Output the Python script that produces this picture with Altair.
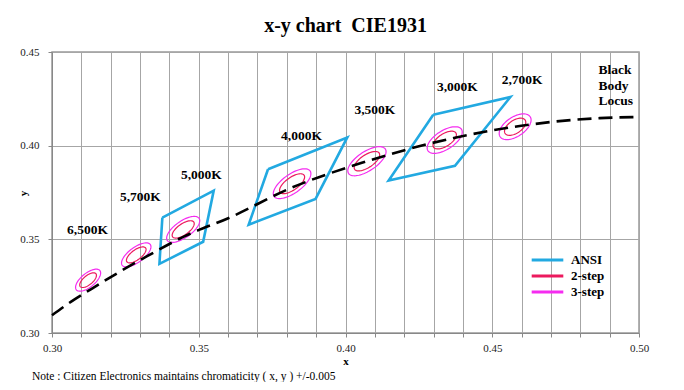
import altair as alt
import numpy as np
import pandas as pd

# ---- data ----
cct_labels = ["6,500K", "5,700K", "5,000K", "4,000K", "3,500K", "3,000K", "2,700K"]
center_x = [0.3123, 0.3287, 0.3447, 0.3818, 0.4073, 0.4338, 0.4578]
center_y = [0.3282, 0.3417, 0.3553, 0.3797, 0.3917, 0.4030, 0.4101]
# 1-step MacAdam ellipse semi-axes and rotation (degrees)
ellipse_a = [0.00223, 0.00250, 0.00274, 0.00313, 0.00309, 0.00278, 0.00258]
ellipse_b = [0.00095, 0.00105, 0.00118, 0.00134, 0.00138, 0.00136, 0.00137]
ellipse_theta = [58.23, 55.00, 53.72, 54.00, 52.58, 53.13, 57.17]
ellipse_steps = {"2-step": 2, "3-step": 3}

# ANSI quadrangles
ansi_cct = ["5,000K", "4,000K", "3,000K"]
ansi_x = [[0.3376, 0.3551, 0.3515, 0.3366],
          [0.3736, 0.4006, 0.3898, 0.3670],
          [0.4299, 0.4562, 0.4373, 0.4147]]
ansi_y = [[0.3616, 0.3760, 0.3487, 0.3369],
          [0.3874, 0.4044, 0.3716, 0.3578],
          [0.4165, 0.4260, 0.3893, 0.3814]]

# Black body locus
locus_x = [0.3000, 0.3064, 0.3135, 0.3221, 0.3324, 0.3451, 0.3611, 0.3805,
           0.4053, 0.4369, 0.4599, 0.4770, 0.4866, 0.5000]
locus_y = [0.3095, 0.3166, 0.3236, 0.3318, 0.3410, 0.3516, 0.3620, 0.3768,
           0.3907, 0.4041, 0.4106, 0.4137, 0.4147, 0.4153]

# Annotation labels
label_text = ["6,500K", "5,700K", "5,000K", "4,000K", "3,500K", "3,000K", "2,700K"]
label_x = [0.3121, 0.3301, 0.3509, 0.3850, 0.4100, 0.4381, 0.4602]
label_y = [0.3548, 0.3724, 0.3845, 0.4049, 0.4188, 0.4311, 0.4352]
bb_text = ["Black", "Body", "Locus"]
bb_x = [0.4862, 0.4862, 0.4862]
bb_y = [0.4402, 0.4318, 0.4240]

series_names = ["ANSI", "2-step", "3-step"]
series_colors = ["#22A9E1", "#EC1A5E", "#F52CF0"]

x_ticks = [round(0.30 + 0.01 * i, 2) for i in range(21)]
y_ticks = [0.30, 0.35, 0.40, 0.45]

# ---- build tables ----
rows = []
for name, xs, ys in zip(ansi_cct, ansi_x, ansi_y):
    pts = list(zip(xs, ys)) + [(xs[0], ys[0])]
    for i, (px, py) in enumerate(pts):
        rows.append({"id": "ANSI " + name, "series": "ANSI", "x": px, "y": py, "o": i})
quad_df = pd.DataFrame(rows)

rows = []
t = np.linspace(0, 2 * np.pi, 73)
for lab, cx, cy, a, b, th in zip(cct_labels, center_x, center_y, ellipse_a, ellipse_b, ellipse_theta):
    r = np.radians(th)
    for sname, k in ellipse_steps.items():
        ex = cx + k * a * np.cos(t) * np.cos(r) - k * b * np.sin(t) * np.sin(r)
        ey = cy + k * a * np.cos(t) * np.sin(r) + k * b * np.sin(t) * np.cos(r)
        for i, (px, py) in enumerate(zip(ex, ey)):
            rows.append({"id": sname + " " + lab, "series": sname, "x": px, "y": py, "o": i})
ell_df = pd.DataFrame(rows)

locus_df = pd.DataFrame({"x": locus_x, "y": locus_y, "o": range(len(locus_x))})
label_df = pd.DataFrame({"text": label_text, "x": label_x, "y": label_y})
bb_df = pd.DataFrame({"text": bb_text, "x": bb_x, "y": bb_y})

SERIF = "Liberation Serif"
W, H = 587, 281

xscale = alt.Scale(domain=[0.30, 0.50], nice=False, zero=False)
yscale = alt.Scale(domain=[0.30, 0.45], nice=False, zero=False)
color = alt.Color("series:N",
                  scale=alt.Scale(domain=series_names, range=series_colors),
                  legend=alt.Legend(title=None, orient="none", legendX=478, legendY=200,
                                    symbolType="stroke", symbolSize=1000, symbolStrokeWidth=3,
                                    clipHeight=16, rowPadding=0, padding=0,
                                    labelFont=SERIF, labelFontSize=13, labelFontWeight="bold",
                                    labelColor="black", labelOffset=6))

xaxis = alt.Axis(values=x_ticks, tickCount=30, format=".2f",
                 labelExpr="abs(round(datum.value*100) % 5) == 0 ? format(datum.value, '.2f') : ''",
                 labelOverlap=False,
                 title="x", titleFont=SERIF, titleFontWeight="bold", titleFontSize=11,
                 titleY=22, titleBaseline="top", titleColor="black",
                 labelFont=SERIF, labelFontSize=11, labelColor="#222", labelPadding=5,
                 tickSize=4, tickColor="#888", domainColor="#888",
                 grid=True, gridColor="#A6A6A6", labelFlush=False)
yaxis = alt.Axis(values=y_ticks, format=".2f", labelOverlap=False,
                 title="y", titleFont=SERIF, titleFontWeight="bold", titleFontSize=11,
                 titleX=-29, titleY=141, titleAngle=270, titleBaseline="middle",
                 titleAlign="center", titleColor="black",
                 labelFont=SERIF, labelFontSize=11, labelColor="#222", labelPadding=9,
                 tickSize=4, tickColor="#888", domainColor="#888",
                 grid=True, gridColor="#A6A6A6", labelFlush=False)

quads = alt.Chart(quad_df).mark_line(strokeWidth=2.6).encode(
    x=alt.X("x:Q", scale=xscale, axis=xaxis),
    y=alt.Y("y:Q", scale=yscale, axis=yaxis),
    color=color, detail="id:N", order="o:Q")

ells = alt.Chart(ell_df).mark_line(strokeWidth=1.2).encode(
    x="x:Q", y="y:Q", color=color, detail="id:N", order="o:Q")

locus = alt.Chart(locus_df).mark_line(color="black", strokeWidth=2.6,
                                      strokeDash=[14, 7], interpolate="monotone").encode(
    x="x:Q", y="y:Q", order="o:Q")

labels = alt.Chart(label_df).mark_text(font=SERIF, fontSize=13.5, fontWeight="bold",
                                       color="black", baseline="middle", align="center").encode(
    x="x:Q", y="y:Q", text="text:N")

bb_labels = alt.Chart(bb_df).mark_text(font=SERIF, fontSize=13.5, fontWeight="bold",
                                       color="black", baseline="middle", align="left").encode(
    x="x:Q", y="y:Q", text="text:N")

title = alt.Chart(pd.DataFrame({"t": ["x-y chart\u00a0 CIE1931"]})).mark_text(
    font=SERIF, fontSize=20, fontWeight="bold", color="black",
    align="center", baseline="middle").encode(
    text="t:N", x=alt.value(W / 2), y=alt.value(-26))

note = alt.Chart(pd.DataFrame({"t": ["Note : Citizen Electronics maintains chromaticity ( x, y ) +/-0.005"]})).mark_text(
    font=SERIF, fontSize=11.5, color="black", align="left", baseline="middle").encode(
    text="t:N", x=alt.value(-20), y=alt.value(325))

chart = alt.layer(quads, ells, locus, labels, bb_labels, title, note).properties(
    width=W, height=H,
    autosize=alt.AutoSizeParams(type="none"),
    padding={"left": 44, "top": 44, "right": 37, "bottom": 49},
).configure_view(stroke="#999", strokeWidth=1.5)

chart.save("out.html", embed_options={"renderer": "svg", "actions": False})
